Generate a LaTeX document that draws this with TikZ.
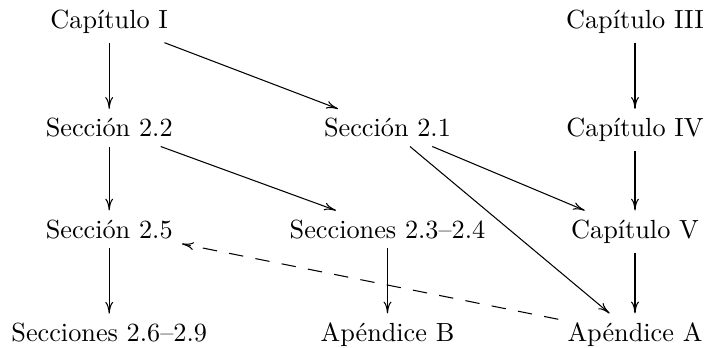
\documentclass[tikz,border=0pt]{standalone}
\usepackage{fontspec}
\usetikzlibrary{arrows.meta,calc}
\newcommand{\chap}{\fontsize{10}{12}\selectfont}

\begin{document}
\begin{tikzpicture}[x=1mm,y=1mm,font=\chap,
  part/.style={anchor=base},
  dep/.style={-{To[length=4.5pt,width=3pt]},line width=0.4pt},
  back/.style={dep,dash pattern=on 5.5pt off 4.7pt}]
\useasboundingbox (0,0) rectangle (94.26,46.5);
\node[part] (capI) at (14.62,42.71) {Capítulo I};
\node[part] (sec22) at (14.62,28.20) {Sección 2.2};
\node[part] (sec25) at (14.62,14.60) {Sección 2.5};
\node[part] (sec26) at (14.62,0.78) {Secciones 2.6–2.9};
\node[part] (sec21) at (51.88,28.20) {Sección 2.1};
\node[part] (sec23) at (51.88,14.60) {Secciones 2.3–2.4};
\node[part] (apB) at (51.88,0.78) {Apéndice B};
\node[part] (capIII) at (85.02,42.71) {Capítulo III};
\node[part] (capIV) at (85.02,28.20) {Capítulo IV};
\node[part] (capV) at (85.02,14.60) {Capítulo V};
\node[part] (apA) at (85.02,0.78) {Apéndice A};
\draw[dep] (capI) -- (sec22);
\draw[dep] (capI) -- (sec21);
\draw[dep] (sec22) -- (sec25);
\draw[dep] (sec22) -- (sec23);
\draw[dep] (sec25) -- (sec26);
\draw[dep] (sec23) -- (apB);
\draw[dep] (sec21) -- (capV);
\draw[dep] (sec21) -- (apA);
\draw[dep] (capIII) -- (capIV);
\draw[dep] (capIV) -- (capV);
\draw[dep] (capV) -- (apA);
\draw[back] (apA) -- (sec25);
\end{tikzpicture}
\end{document}
